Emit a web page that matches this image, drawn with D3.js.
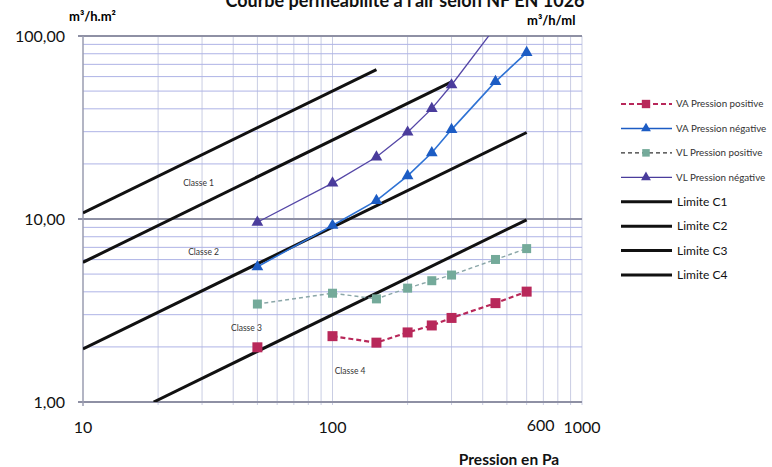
<!DOCTYPE html>
<html>
<head>
<meta charset="utf-8">
<script src="https://cdn.jsdelivr.net/npm/d3@7"></script>
<style>
  body { margin: 0; background: #fff; }
  text { font-family: Lato, 'Liberation Sans', sans-serif; }
</style>
</head>
<body>
<svg id="chart" width="772" height="467"></svg>
<script>
// pressure steps (Pa)
const pressures = [50, 100, 150, 200, 250, 300, 450, 600]

const vaPositive = [1.99, 2.29, 2.11, 2.40, 2.62, 2.88, 3.47, 4.01]
const vaNegative = [5.48, 9.22, 12.6, 17.2, 23.0, 30.8, 56.3, 81.2]
const vlPositive = [3.43, 3.93, 3.66, 4.19, 4.60, 4.94, 6.01, 6.89]
const vlNegative = [9.6, 15.7, 21.8, 29.8, 40.1, 54.0, 112]

// class limit lines [pressure, value]
const limitC1 = [[10, 10.8], [150, 65.5]]
const limitC2 = [[10, 5.8], [300, 56.2]]
const limitC3 = [[10, 1.95], [600, 29.7]]
const limitC4 = [[19.2, 1.0], [600, 9.9]]

const classLabels = ['Classe 1', 'Classe 2', 'Classe 3', 'Classe 4']
const classAnchors = [[25.2, 15.7], [26.4, 6.6], [39.2, 2.54], [102, 1.48]]

const yTickValues = [1, 10, 100]
const xTickValues = [10, 100, 1000]
const xExtraTick = 600

const title = "Courbe perméabilité à l'air selon NF EN 1026"

const W = 772
const H = 467
const svg = d3.select('#chart')

svg.append('rect').attr('width', W).attr('height', H).attr('fill', '#fff')

const x = d3.scaleLog().domain([10, 1000]).range([83, 582])
const y = d3.scaleLog().domain([1, 100]).range([402, 36])

const fr = d3.formatLocale({ decimal: ',', thousands: ' ', grouping: [3], currency: ['', ' €'] })
const fmtY = fr.format('.2f')

// grid
const grid = svg.append('g')
const isMajor = v => Math.abs(Math.log10(v) - Math.round(Math.log10(v))) < 1e-9

grid.selectAll('.vgrid')
  .data(x.ticks().filter(v => v > 10))
  .enter().append('line')
  .attr('x1', d => x(d)).attr('x2', d => x(d))
  .attr('y1', y(100)).attr('y2', y(1) + 3)
  .attr('stroke', '#c9cde3').attr('stroke-width', 1)

grid.selectAll('.hminor')
  .data(y.ticks().filter(v => !isMajor(v)))
  .enter().append('line')
  .attr('x1', x(10)).attr('x2', x(1000))
  .attr('y1', d => y(d)).attr('y2', d => y(d))
  .attr('stroke', '#aeb3e6').attr('stroke-width', 1)

grid.selectAll('.hmajor')
  .data(yTickValues)
  .enter().append('line')
  .attr('x1', x(10) - 5).attr('x2', x(1000))
  .attr('y1', d => y(d)).attr('y2', d => y(d))
  .attr('stroke', '#8e90a4').attr('stroke-width', 2)

grid.append('line')
  .attr('x1', x(10)).attr('x2', x(10))
  .attr('y1', y(100)).attr('y2', y(1) + 4)
  .attr('stroke', '#9a9cb0').attr('stroke-width', 1.5)

// axis labels
svg.selectAll('.ylab')
  .data(yTickValues)
  .enter().append('text')
  .attr('x', x(10) - 18)
  .attr('y', d => y(d))
  .attr('dy', '0.35em')
  .attr('text-anchor', 'end')
  .attr('font-size', 16)
  .attr('fill', '#111')
  .text(d => fmtY(d))

svg.selectAll('.xlab')
  .data(xTickValues)
  .enter().append('text')
  .attr('x', d => x(d))
  .attr('y', 427)
  .attr('dy', '0.35em')
  .attr('text-anchor', 'middle')
  .attr('font-size', 16)
  .attr('fill', '#111')
  .text(d => d)

svg.append('text')
  .attr('x', x(xExtraTick))
  .attr('y', 425)
  .attr('dy', '0.35em')
  .attr('font-size', 16)
  .attr('fill', '#111')
  .text(xExtraTick)

svg.append('text')
  .attr('x', 509).attr('y', 465)
  .attr('text-anchor', 'middle')
  .attr('font-size', 15.5).attr('font-weight', 'bold')
  .attr('fill', '#111')
  .text('Pression en Pa')

svg.append('text')
  .attr('x', 69).attr('y', 21)
  .attr('font-size', 13).attr('font-weight', 'bold')
  .text('m³/h.m²')

svg.append('text')
  .attr('x', 527).attr('y', 25)
  .attr('font-size', 13).attr('font-weight', 'bold')
  .text('m³/h/ml')

// title sits partly above the top edge, as in the scanned original
svg.append('text')
  .attr('x', 405).attr('y', 7)
  .attr('text-anchor', 'middle')
  .attr('font-size', 18).attr('font-weight', 'bold')
  .attr('fill', '#111')
  .text(title)

// plot contents, clipped to the plot area
svg.append('clipPath').attr('id', 'plot-clip')
  .append('rect')
  .attr('x', x(10)).attr('y', y(100))
  .attr('width', x(1000) - x(10)).attr('height', y(1) - y(100))

const plot = svg.append('g').attr('clip-path', 'url(#plot-clip)')

const line = d3.line().x(d => x(d[0])).y(d => y(d[1]))

;[limitC1, limitC2, limitC3, limitC4].forEach(pts => {
  plot.append('path')
    .attr('d', line(pts))
    .attr('fill', 'none')
    .attr('stroke', '#111')
    .attr('stroke-width', 3)
})

plot.selectAll('.classlab')
  .data(classLabels)
  .enter().append('text')
  .attr('x', (d, i) => x(classAnchors[i][0]))
  .attr('y', (d, i) => y(classAnchors[i][1]))
  .attr('dy', '0.35em')
  .attr('font-size', 8.5)
  .attr('fill', '#333')
  .text(d => d)

const series = [
  { name: 'VA Pression positive', values: vaPositive, color: '#b8285a', line: '#b8285a',
    legendLine: '#b8285a', width: 2.2, dash: '5,3', symbol: d3.symbolSquare, size: 100, from: 1 },
  { name: 'VA Pression négative', values: vaNegative, color: '#1c5cc4', line: '#2e72d4',
    legendLine: '#1c5cc4', width: 1.6, dash: null, symbol: d3.symbolTriangle, size: 60, from: 0 },
  { name: 'VL Pression positive', values: vlPositive, color: '#74aa9a', line: '#8aa6a8',
    legendLine: '#333', width: 1.4, dash: '4,3', symbol: d3.symbolSquare, size: 81, from: 0 },
  { name: 'VL Pression négative', values: vlNegative, color: '#4a3c9c', line: '#5446a6',
    legendLine: '#4a3c9c', width: 1.3, dash: null, symbol: d3.symbolTriangle, size: 60, from: 0 }
]

series.forEach(s => {
  const pts = s.values.map((v, i) => [pressures[i], v])
  plot.append('path')
    .attr('d', line(pts.slice(s.from)))
    .attr('fill', 'none')
    .attr('stroke', s.line)
    .attr('stroke-width', s.width)
    .attr('stroke-dasharray', s.dash)
  plot.selectAll(null)
    .data(pts)
    .enter().append('path')
    .attr('d', d3.symbol().type(s.symbol).size(s.size))
    .attr('transform', d => `translate(${x(d[0])},${y(d[1])})`)
    .attr('fill', s.color)
})

// legend
const legendItems = series.map(s => ({ label: s.name, s }))
  .concat(['Limite C1', 'Limite C2', 'Limite C3', 'Limite C4'].map(l => ({ label: l, s: null })))
const ly = d3.scaleLinear().domain([0, legendItems.length - 1]).range([104, 275])

const lg = svg.append('g')
legendItems.forEach((item, i) => {
  const g = lg.append('g').attr('transform', `translate(0,${ly(i)})`)
  if (item.s) {
    g.append('line')
      .attr('x1', 621).attr('x2', 672)
      .attr('stroke', item.s.legendLine)
      .attr('stroke-width', item.s.width)
      .attr('stroke-dasharray', item.s.dash)
    g.append('path')
      .attr('d', d3.symbol().type(item.s.symbol).size(item.s.size * 0.7))
      .attr('transform', 'translate(646,0)')
      .attr('fill', item.s.color)
    g.append('text')
      .attr('x', 676).attr('dy', '0.35em')
      .attr('font-size', 9.8).attr('fill', '#333')
      .text(item.label)
  } else {
    g.append('line')
      .attr('x1', 621).attr('x2', 672)
      .attr('stroke', '#111').attr('stroke-width', 3)
    g.append('text')
      .attr('x', 677).attr('dy', '0.35em')
      .attr('font-size', 12).attr('fill', '#111')
      .text(item.label)
  }
})
</script>
</body>
</html>
